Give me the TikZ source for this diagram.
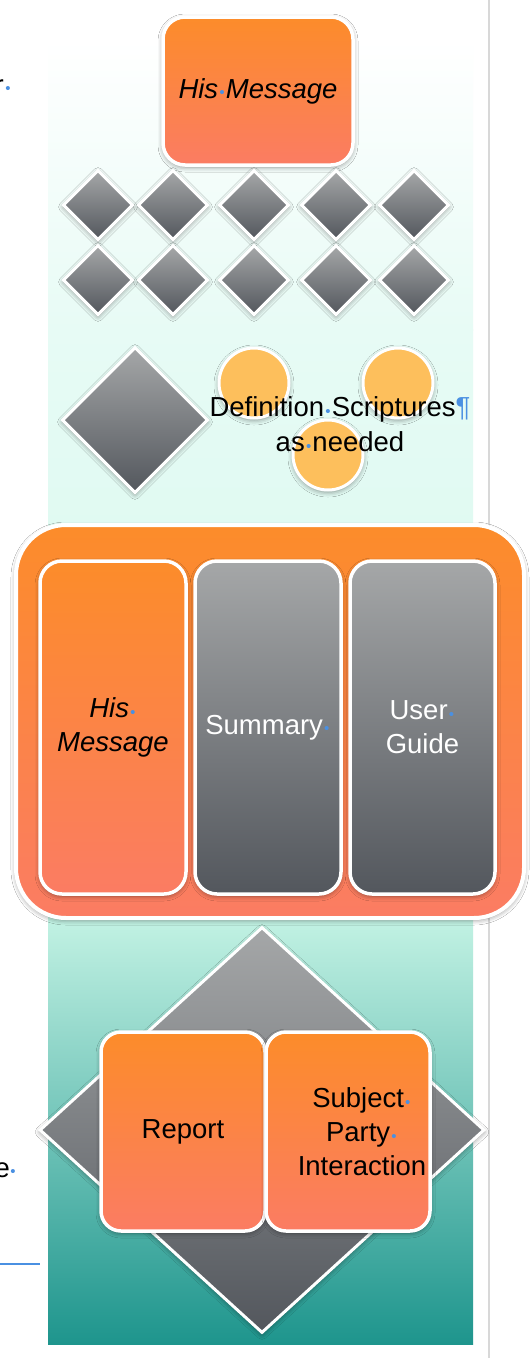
\documentclass[tikz,border=0pt]{standalone}
\usepackage{fontspec}
\setmainfont{Liberation Sans}
\usetikzlibrary{shapes.geometric,shadows.blur}
\definecolor{orgTop}{HTML}{FC8C2A}
\definecolor{orgBot}{HTML}{FB7C63}
\definecolor{grayTop}{HTML}{A5A7A8}
\definecolor{grayBot}{HTML}{53575D}
\definecolor{circOrange}{HTML}{FDBF5C}
\definecolor{dotblue}{HTML}{4A90E2}
\definecolor{mintA}{HTML}{E7FBF5}
\definecolor{mintB}{HTML}{D3F8EC}
\definecolor{mintC}{HTML}{C9F6E7}
\definecolor{tealMid}{HTML}{78DACA}
\definecolor{tealBot}{HTML}{1E958D}
\definecolor{rulegray}{HTML}{D8D8D8}
\newcommand\bdot{\makebox[0.28em][c]{\color{dotblue}\raisebox{0.02ex}{\fontsize{15}{15}\selectfont\textbullet}}}
\tikzset{
  shad/.style={blur shadow={shadow xshift=0pt,shadow yshift=-2pt,shadow blur radius=5pt,shadow opacity=45}},
  graydia/.style={diamond, draw=white, line width=3pt, top color=grayTop, bottom color=grayBot, inner sep=0pt, shad},
  orangebox/.style={rectangle, rounded corners=22pt, draw=white, line width=3.5pt, top color=orgTop, bottom color=orgBot, inner sep=0pt, shad},
  graybox/.style={rectangle, rounded corners=22pt, draw=white, line width=3.5pt, top color=grayTop, bottom color=grayBot, inner sep=0pt, shad},
  dotcirc/.style={circle, draw=white, line width=3pt, fill=circOrange, inner sep=0pt, minimum size=70pt, shad},
  lbl/.style={font=\fontsize{27.5}{34}\selectfont, align=center},
}
\begin{document}
\begin{tikzpicture}[x=1pt,y=-1pt]
\useasboundingbox (0,0) rectangle (532,1358);
\fill[white] (0,0) rectangle (532,1358);
% background panel
\fill[top color=white, bottom color=mintA] (48,40) rectangle (473,330);
\fill[top color=mintA, bottom color=mintB] (48,329) rectangle (473,901);
\fill[top color=mintC, middle color=tealMid, bottom color=tealBot] (48,900) rectangle (473,1344);
% right rule
\coordinate (rt) at (489,0);
\coordinate (rb) at (489,1358);
\draw[rulegray, line width=2pt] (rt) -- (rb);

% top box
\node[orangebox, minimum width=190pt, minimum height=148pt, lbl] (top) at (258,91)
  {\itshape His\bdot Message};

% small diamonds
\foreach \x [count=\i] in {98,173,254,336,414}{
  \node[graydia, minimum width=70pt, minimum height=70pt] (da\i) at (\x,205) {};
  \node[graydia, minimum width=70pt, minimum height=70pt] (db\i) at (\x,280) {};
}
% big diamond
\node[graydia, minimum width=146pt, minimum height=146pt] (bigd) at (135,420) {};
% circles
\node[dotcirc] (c1) at (254,383) {};
\node[dotcirc] (c2) at (398,383) {};
\node[dotcirc] (c3) at (328,455) {};
\node[lbl, font=\fontsize{27.5}{35}\selectfont] (defn) at (340,424)
  {Definition\bdot Scriptures{\color{dotblue}\P}\\as\bdot needed};

% big frame
\node[orangebox, rounded corners=50pt, line width=4pt, minimum width=508pt, minimum height=393pt] (frame) at (270,721.5) {};
\node[orangebox, minimum width=146pt, minimum height=333pt, lbl] (col1) at (113,727.5)
  {\itshape His\bdot\\\itshape Message};
\node[graybox, minimum width=146pt, minimum height=333pt, lbl, text=white] (col2) at (268,727.5)
  {Summary\bdot};
\node[graybox, minimum width=145pt, minimum height=333pt, lbl, text=white] (col3) at (422.5,727.5)
  {User\bdot\\Guide};

% bottom rhombus
\node[graydia, minimum width=445pt, minimum height=406pt] (rhomb) at (262,1130) {};
\node[orangebox, rounded corners=20pt, minimum width=164pt, minimum height=199pt, lbl] (report) at (183,1131.5)
  {Report};
\node[orangebox, rounded corners=20pt, minimum width=164pt, minimum height=199pt] (subj) at (348,1131.5) {};
\node[lbl] (subjtxt) at (362,1132) {Subject\bdot\\Party\bdot\\Interaction};

% left fragments
\node[lbl, anchor=base east, inner sep=0pt] (frag1) at (4,94) {r};
\node[anchor=base west, inner sep=0pt, font=\fontsize{27.5}{34}\selectfont] (frag1d) at (4,94) {\bdot};
\node[lbl, anchor=base east, inner sep=0pt] (frag2) at (10,1177) {e};
\node[anchor=base west, inner sep=0pt, font=\fontsize{27.5}{34}\selectfont] (frag2d) at (9,1177) {\bdot};
\coordinate (bl1) at (0,1264);
\coordinate (bl2) at (40,1264);
\draw[dotblue, line width=2.5pt] (bl1) -- (bl2);
\end{tikzpicture}
\end{document}
